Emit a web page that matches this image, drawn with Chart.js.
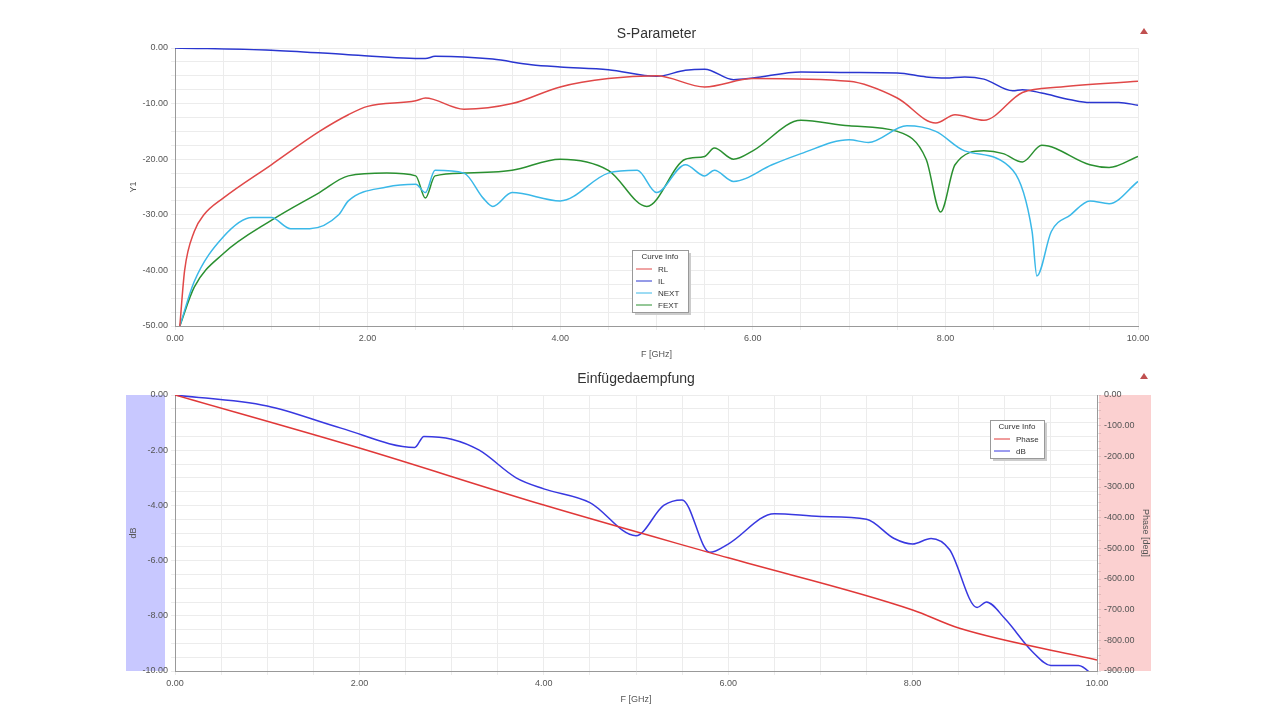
<!DOCTYPE html>
<html><head><meta charset="utf-8">
<script src="https://cdn.jsdelivr.net/npm/chart.js@4"></script>
<style>
body{margin:0;background:#fff;width:1280px;height:720px;position:relative;overflow:hidden}
.c{position:absolute;left:100px;width:1060px;height:345px}
</style></head><body>
<div class="c" style="top:15px"><canvas id="sp" width="1060" height="345"></canvas></div>
<div class="c" style="top:360px"><canvas id="ie" width="1060" height="345"></canvas></div>
<script>
// ---- S-Parameter data (F in GHz, dB) ----
const rlF  = [0.05,0.1,0.2,0.3,0.5,1.0,1.5,1.8,2.0,2.5,2.6,3.0,3.5,4.0,4.5,5.0,5.5,6.0,7.0,7.5,7.9,8.1,8.4,8.8,9.2,10];
const rlY  = [-50,-40,-33,-30,-27,-21,-15,-12,-10.5,-9.5,-9,-11,-10,-7,-5.5,-5,-7,-5.5,-6,-9,-13.5,-12,-13,-8,-7,-6];
const ilF  = [0,1.0,1.8,2.6,2.7,3.0,3.3,3.7,4.0,4.5,5.0,5.3,5.5,5.8,6.0,6.5,7.0,7.5,7.8,8.0,8.2,8.4,8.7,8.8,9.0,9.3,9.5,9.8,10];
const ilY  = [0,-0.4,-1.2,-1.9,-1.5,-1.6,-2.0,-3.0,-3.4,-3.9,-5.1,-4.0,-3.8,-5.7,-5.4,-4.3,-4.4,-4.5,-5.2,-5.4,-5.2,-5.6,-7.7,-7.5,-8.1,-9.3,-9.8,-9.8,-10.3];
const nextF = [0.05,0.2,0.5,0.8,1.0,1.2,1.4,1.7,1.8,2.2,2.5,2.6,2.7,3.0,3.2,3.3,3.5,4.0,4.5,4.8,5.0,5.3,5.5,5.6,5.8,6.2,6.5,7.0,7.2,7.6,7.9,8.2,8.7,8.9,8.95,9.1,9.3,9.5,9.7,10];
const nextY = [-50,-42,-34,-30.5,-30.5,-32.5,-32.5,-30,-27.5,-25,-24.5,-26,-22,-22.5,-27,-28.5,-26,-27.5,-22.5,-22,-26,-21,-23,-22,-24,-21,-19,-16.5,-17,-14,-15,-18.5,-22,-33,-41,-33,-30,-27.5,-28,-24];
const fextF = [0.05,0.2,0.5,1.0,1.5,1.8,2.2,2.5,2.6,2.7,3.0,3.5,4.0,4.5,4.9,5.3,5.5,5.6,5.8,6.0,6.5,7.0,7.5,7.8,7.95,8.1,8.4,8.6,8.8,9.0,9.5,9.7,10];
const fextY = [-50,-43,-37,-31,-26,-23,-22.5,-23,-27,-23,-22.5,-22,-20,-22,-28.5,-20,-19.5,-18,-20,-18.5,-13,-14,-15,-20,-29.5,-21,-18.5,-19,-20.5,-17.5,-21,-21.5,-19.5];
// ---- Einfuegedaempfung phase (deg) ----
const phF = [0,2,4,6,8,8.5,10];
const phY = [0,-173,-359,-531,-701,-760,-864];

const pts = (xs, ys) => xs.map((x, i) => ({x, y: ys[i]}));
const FONT = {family: "Liberation Sans, Arial", size: 9};
const fmt = v => v.toFixed(2);
Chart.defaults.color = "#555";
Chart.defaults.animation = false;

const line = (label, data, color, axis) => ({
  label, data: data, borderColor: color, borderWidth: 1.5, pointRadius: 0,
  cubicInterpolationMode: "monotone", yAxisID: axis || "y"
});

// draws title, side bands, y title and the "Curve Info" box
const deco = {
  id: "deco",
  beforeDraw(c, a, o) {
    const g = c.ctx, ca = c.chartArea;
    (o.bands || []).forEach(b => { g.fillStyle = b.color; g.fillRect(b.x, ca.top, b.w, ca.bottom - ca.top); });
  },
  afterDraw(c, a, o) {
    const g = c.ctx, ca = c.chartArea;
    g.save();
    g.fillStyle = "#555"; g.font = "9px Liberation Sans, Arial"; g.textAlign = "center";
    g.save(); g.translate(36, (ca.top + ca.bottom) / 2); g.rotate(-Math.PI / 2);
    g.fillText(o.ytitle, 0, 0); g.restore();
    g.fillStyle = "#333"; g.font = "14px Liberation Sans, Arial";
    g.fillText(o.title, (ca.left + ca.right) / 2, 23);
    g.fillStyle = "#c05050"; g.beginPath();
    g.moveTo(o.tri, 13); g.lineTo(o.tri - 4, 19); g.lineTo(o.tri + 4, 19); g.fill();
    const L = o.legend, h = 14 + 12 * c.data.datasets.length;
    g.fillStyle = "#ccc"; g.fillRect(L.x + 3, L.y + 3, L.w, h);
    g.fillStyle = "#fff"; g.fillRect(L.x, L.y, L.w, h);
    g.strokeStyle = "#999"; g.lineWidth = 1; g.strokeRect(L.x + .5, L.y + .5, L.w, h);
    g.fillStyle = "#333"; g.font = "8px Liberation Sans, Arial";
    g.fillText("Curve Info", L.x + L.w / 2, L.y + 9);
    g.textAlign = "left";
    c.data.datasets.forEach((d, i) => {
      const y = L.y + 19 + 12 * i;
      g.strokeStyle = d.borderColor; g.beginPath(); g.moveTo(L.x + 4, y); g.lineTo(L.x + 20, y); g.stroke();
      g.fillText(d.label, L.x + 26, y + 3);
    });
    g.restore();
  }
};

const xScale = () => ({
  type: "linear", min: 0, max: 10,
  title: {display: true, text: "F [GHz]", font: FONT, padding: 0},
  ticks: {stepSize: 0.5, font: FONT, maxRotation: 0, autoSkip: false,
          callback: v => (v % 2 === 0 ? fmt(v) : "")},
  grid: {color: "#ececec", tickLength: 4},
  border: {color: "#999"},
  afterFit: s => { s.height = 34; }
});

new Chart(document.getElementById("sp"), {
  type: "line",
  data: {datasets: [
    line("RL", pts(rlF, rlY), "#e04848"),
    line("IL", pts(ilF, ilY), "#2a36d0"),
    line("NEXT", pts(nextF, nextY), "#3ab8e8"),
    line("FEXT", pts(fextF, fextY), "#2a9030")
  ]},
  options: {
    responsive: false, maintainAspectRatio: false, devicePixelRatio: 1,
    layout: {padding: {top: 33, right: 22}},
    plugins: {legend: {display: false}, tooltip: {enabled: false},
      deco: {title: "S-Parameter", ytitle: "Y1", tri: 1044, legend: {x: 532, y: 235, w: 56}}},
    scales: {
      x: xScale(),
      y: {min: -50, max: 0,
          ticks: {stepSize: 2.5, font: FONT, autoSkip: false, callback: v => (v % 10 === 0 ? fmt(v) : "")},
          grid: {color: "#ececec", tickLength: 4}, border: {color: "#999"},
          afterFit: s => { s.width = 75; }}
    }
  },
  plugins: [deco]
});

new Chart(document.getElementById("ie"), {
  type: "line",
  data: {datasets: [
    line("Phase", pts(phF, phY), "#e03838", "y2"),
    line("dB", pts(ilF, ilY), "#3838e0", "y")
  ]},
  options: {
    responsive: false, maintainAspectRatio: false, devicePixelRatio: 1,
    layout: {padding: {top: 35, right: 9}},
    plugins: {legend: {display: false}, tooltip: {enabled: false},
      deco: {title: "Einfügedaempfung", ytitle: "dB", tri: 1044, legend: {x: 890, y: 60, w: 54},
             bands: [{x: 26, w: 39, color: "#c8c8ff"}, {x: 999, w: 52, color: "#fbd0d0"}]}},
    scales: {
      x: xScale(),
      y: {min: -10, max: 0, position: "left",
          ticks: {stepSize: 0.5, font: FONT, autoSkip: false, callback: v => (Math.abs(v % 2) < 1e-9 ? fmt(v) : "")},
          grid: {color: "#ececec", tickLength: 4}, border: {color: "#999"},
          afterFit: s => { s.width = 75; }},
      y2: {min: -900, max: 0, position: "right",
          title: {display: true, text: "Phase [deg]", font: FONT, padding: 0},
          ticks: {stepSize: 25, font: FONT, autoSkip: false, callback: v => (v % 100 === 0 ? fmt(v) : "")},
          grid: {drawOnChartArea: false, tickLength: 4}, border: {color: "#999"},
          afterFit: s => { s.width = 54; }}
    }
  },
  plugins: [deco]
});
</script>
</body></html>
